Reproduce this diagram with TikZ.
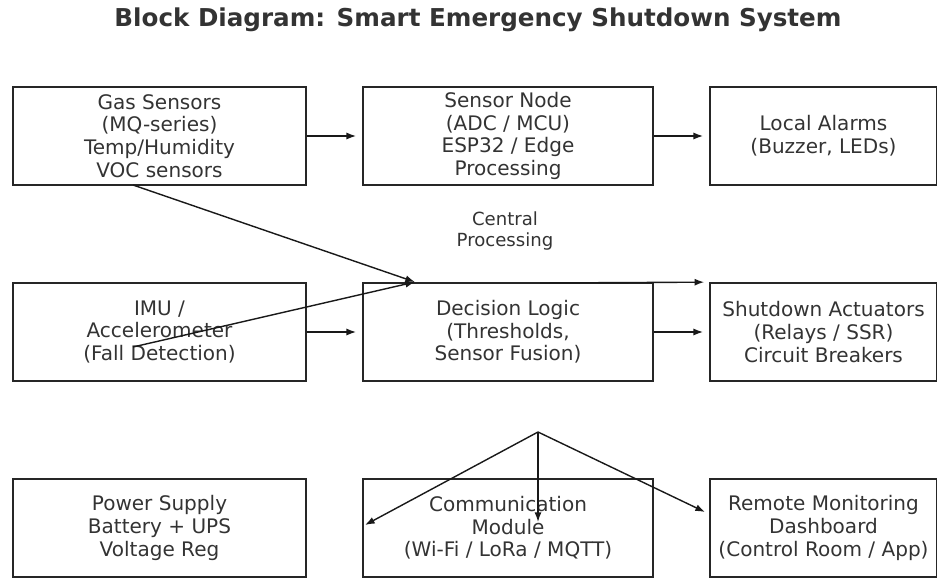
\documentclass[tikz,border=0pt]{standalone}
\usepackage{fontspec}
\setmainfont{DejaVu Sans}
\usetikzlibrary{arrows.meta}
\tikzset{
    blk/.style={draw=black!85, line width=1pt, inner sep=0pt, minimum height=1.96cm,
        align=center, text=black!80, font=\fontsize{11.4}{12.9}\selectfont},
    link/.style={->, line width=0.8pt, black!90}
}
\begin{document}
\begin{tikzpicture}[x=0.02cm, y=-0.02cm, >={Latex[length=5.5pt,width=4pt]}]
\useasboundingbox (0,0) rectangle (937,578);
\node[font=\fontsize{14}{17}\selectfont\bfseries, text=black!80] (title) at (478,20)
    {Block Diagram: Smart Emergency Shutdown System};
% blocks: name/x/y/width/text
\foreach \n/\x/\y/\w/\t in {
    gas/159.5/136/293/{Gas Sensors\\(MQ-series)\\Temp/Humidity\\VOC sensors},
    node/508/136/290/{Sensor Node\\(ADC / MCU)\\ESP32 / Edge\\Processing},
    alarm/823.5/136/227/{Local Alarms\\(Buzzer, LEDs)},
    imu/159.5/332/293/{IMU /\\Accelerometer\\(Fall Detection)},
    logic/508/332/290/{Decision Logic\\(Thresholds,\\Sensor Fusion)},
    shut/823.5/332/227/{Shutdown Actuators\\(Relays / SSR)\\Circuit Breakers},
    power/159.5/528/293/{Power Supply\\Battery + UPS\\Voltage Reg},
    comm/508/528/290/{Communication\\Module\\(Wi-Fi / LoRa / MQTT)},
    remote/823.5/528/227/{Remote Monitoring\\Dashboard\\(Control Room / App)}} {
    \node[blk, minimum width=\w*0.02cm] (\n) at (\x,\y) {\t};
}
\node[align=center, text=black!80, font=\fontsize{10.3}{12}\selectfont] (cpu) at (505,231)
    {Central\\Processing};
% straight links
\draw[link, shorten >=3.4pt] (gas.east) -- (node.west);
\draw[link, shorten >=3.4pt] (node.east) -- (alarm.west);
\draw[link, shorten >=3.4pt] (imu.east) -- (logic.west);
\draw[link, shorten >=3.4pt] (logic.east) -- (shut.west);
% fusion links
\coordinate (fuse) at (415,282);
\coordinate (gastail) at (133,185);
\coordinate (imutail) at (133,347);
\draw[link] (gastail) -- (fuse);
\draw[link] (imutail) -- (fuse);
\coordinate (acttail) at (540,283);
\draw[link, shorten >=2.8pt] (acttail) -- (shut.north west);
% outputs
\coordinate (hub) at (538,432);
\coordinate (powtip) at (365,525);
\coordinate (comtip) at (538,522);
\coordinate (remtip) at (705,512);
\foreach \e in {powtip,comtip,remtip}
    \draw[link] (hub) -- (\e);
\end{tikzpicture}
\end{document}
